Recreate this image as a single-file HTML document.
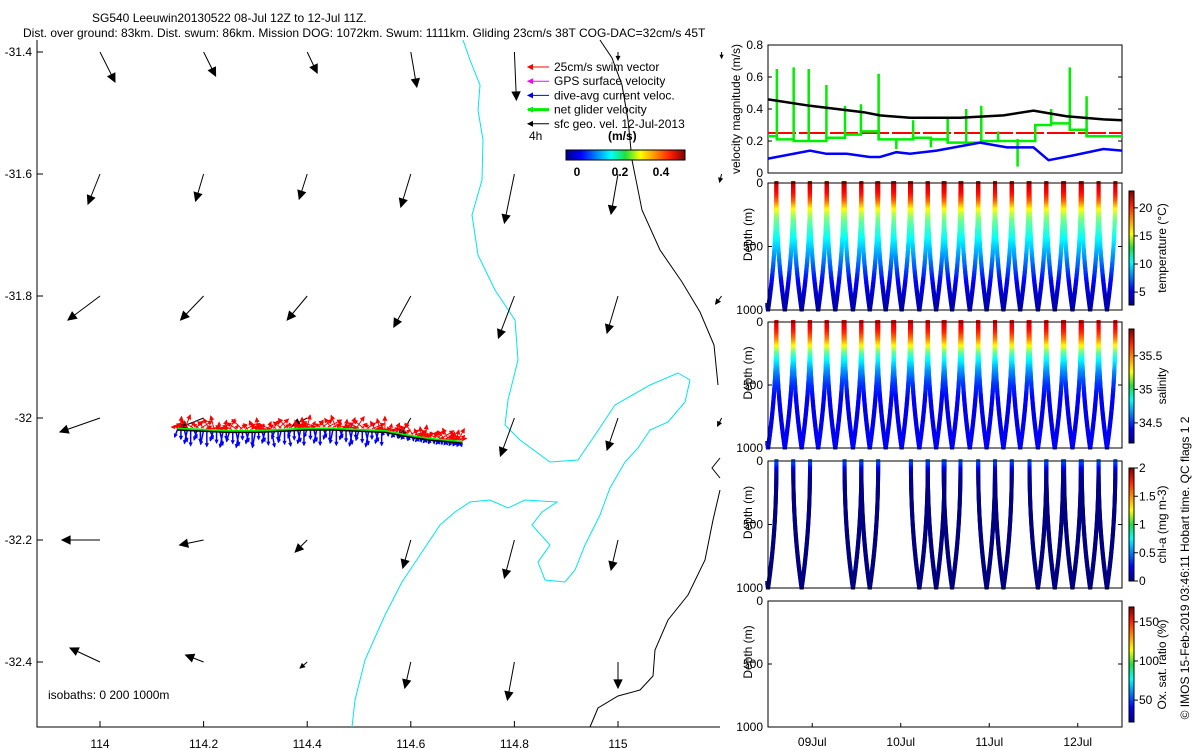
<!DOCTYPE html>
<html><head><meta charset="utf-8"><style>
html,body{margin:0;padding:0;background:#fff;}
svg{display:block;font-family:"Liberation Sans",sans-serif;}
text{font-size:12px;fill:#000;}
</style></head><body>
<svg id="fig" width="1200" height="750" viewBox="0 0 1200 750">
<defs>
<linearGradient id="jetH" x1="0" x2="1" y1="0" y2="0">
<stop offset="0" stop-color="#00008f"/><stop offset="0.125" stop-color="#0000ff"/><stop offset="0.375" stop-color="#00ffff"/><stop offset="0.5" stop-color="#20e040"/><stop offset="0.625" stop-color="#ffff00"/><stop offset="0.875" stop-color="#ff2000"/><stop offset="1" stop-color="#800000"/>
</linearGradient>
<linearGradient id="jetV" x1="0" x2="0" y1="1" y2="0">
<stop offset="0" stop-color="#00008f"/><stop offset="0.125" stop-color="#0000ff"/><stop offset="0.375" stop-color="#00ffff"/><stop offset="0.5" stop-color="#20e040"/><stop offset="0.625" stop-color="#ffff00"/><stop offset="0.875" stop-color="#ff2000"/><stop offset="1" stop-color="#800000"/>
</linearGradient>
</defs>
<text x="92" y="22">SG540 Leeuwin20130522 08-Jul 12Z to 12-Jul 11Z.</text>
<text x="23" y="37">Dist. over ground: 83km. Dist. swum: 86km. Mission DOG: 1072km. Swum: 1111km. Gliding 23cm/s 38T COG-DAC=32cm/s 45T</text>
<g id="map"></g>
<g id="right"></g>
</svg>
<script>
// ---------- data ----------
const mapLonTicks=[114,114.2,114.4,114.6,114.8,115];
const mapLatTicks=[-31.4,-31.6,-31.8,-32,-32.2,-32.4];
const gridLons=[114,114.2,114.4,114.6,114.8,115,115.2];
const gridLats=[-31.4,-31.6,-31.8,-32,-32.2,-32.4];
const geoU=[[0.15,0.12,0.10,0.06,0.02,0.0,0.0],[-0.12,-0.08,-0.08,-0.10,-0.10,-0.07,-0.02],[-0.32,-0.23,-0.20,-0.17,-0.16,-0.11,-0.06],[-0.40,-0.25,-0.15,-0.12,-0.14,-0.11,-0.04],[-0.38,-0.24,-0.12,-0.08,-0.10,-0.07,0],[-0.30,-0.18,-0.07,-0.06,-0.07,0.0,0]];
const geoV=[[-0.30,-0.24,-0.21,-0.35,-0.48,-0.08,-0.06],[-0.30,-0.27,-0.25,-0.33,-0.49,-0.40,-0.08],[-0.24,-0.24,-0.24,-0.31,-0.42,-0.37,-0.08],[-0.14,-0.10,-0.08,-0.20,-0.38,-0.32,-0.08],[0.0,-0.05,-0.12,-0.28,-0.38,-0.30,0],[0.14,0.07,-0.06,-0.26,-0.38,-0.26,0]];
const trackLon=[114.15,114.2,114.25,114.3,114.35,114.4,114.45,114.5,114.55,114.6,114.64,114.68,114.7];
const trackLat=[-32.018,-32.02,-32.022,-32.022,-32.02,-32.018,-32.018,-32.02,-32.022,-32.03,-32.035,-32.038,-32.04];
const velDays=[0,0.475,0.66,0.89,1.15,1.265,1.45,1.605,1.905,2.395,2.70,3.0,3.17,3.45,3.79,4.0];
const velDAC=[0.09,0.14,0.12,0.12,0.10,0.10,0.13,0.12,0.14,0.19,0.16,0.16,0.08,0.11,0.15,0.14];
const geoDays=[0,0.475,1.08,1.265,1.605,2.17,2.66,3.0,3.37,3.79,4.0];
const velGeo=[0.46,0.42,0.38,0.36,0.345,0.345,0.36,0.39,0.355,0.335,0.33];
const netStepT=[0,0.1,0.29,0.46,0.66,0.87,1.05,1.25,1.64,1.84,2.03,2.24,2.41,2.6,2.79,3.02,3.2,3.41,3.6,4.0];
const netStepV=[0.23,0.21,0.20,0.20,0.22,0.24,0.26,0.21,0.22,0.21,0.19,0.19,0.20,0.20,0.20,0.30,0.31,0.27,0.23,0.23];
const spikeT=[0.1,0.29,0.46,0.66,0.87,1.05,1.25,1.45,1.64,1.84,2.03,2.24,2.41,2.6,2.82,3.2,3.41,3.6];
const spikeV=[0.65,0.66,0.65,0.55,0.42,0.43,0.62,0.15,0.33,0.16,0.35,0.40,0.42,0.26,0.04,0.40,0.66,0.48];
const swimSpeed=0.25;
const diveBottoms=[0,0.19,0.38,0.567,0.76,0.96,1.15,1.33,1.51,1.71,1.9,2.08,2.28,2.47,2.66,2.85,3.05,3.24,3.44,3.64,3.83];
const chlBottoms=[0,0.38,0.96,1.15,1.71,1.9,2.08,2.47,2.66,3.05,3.24,3.44,3.64,3.83];
const profDepth=[0,50,100,150,200,250,300,400,500,600,700,800,900,1000];
const profTemp=[22,21,20,18.5,16,14,12.5,11,9.5,8,6.5,5,4,3.5];
const profSal=[35.75,35.7,35.6,35.45,35.25,35.0,34.85,34.65,34.5,34.42,34.38,34.38,34.4,34.42];
const profChl=[0.45,0.3,0.08,0.03,0.02,0.01,0,0,0,0,0,0,0,0];
const dayTicks=["09Jul","10Jul","11Jul","12Jul"];
const dayTickPos=[0.5,1.5,2.5,3.5];

// ---------- helpers ----------
const NS="http://www.w3.org/2000/svg";
function mk(parent,tag,attrs){const e=document.createElementNS(NS,tag);for(const k in attrs)e.setAttribute(k,attrs[k]);parent.appendChild(e);return e;}
function jet(f){f=Math.max(0,Math.min(1,f));const r=Math.max(0,Math.min(1,1.5-Math.abs(4*f-3))),g=Math.max(0,Math.min(1,1.5-Math.abs(4*f-2))),b=Math.max(0,Math.min(1,1.5-Math.abs(4*f-1)));return `rgb(${Math.round(r*255)},${Math.round(g*255)},${Math.round(b*255)})`;}
function interp(xs,ys,x){for(let i=1;i<xs.length;i++){if(x<=xs[i]){const f=(x-xs[i-1])/(xs[i]-xs[i-1]);return ys[i-1]+f*(ys[i]-ys[i-1]);}}return ys[ys.length-1];}

// ---------- map ----------
const map=document.getElementById('map');
const lonX=lon=>100+(lon-114)*518;
const latY=lat=>52+(-31.4-lat)*610;
const velScale=100;
function arrow(g,x1,y1,x2,y2,col,w,hs){
  const l=mk(g,'line',{x1,y1,x2,y2,stroke:col,'stroke-width':w});
  const a=Math.atan2(y2-y1,x2-x1),len=Math.hypot(x2-x1,y2-y1);
  const h=Math.min(hs,len*0.5);
  if(h>0.5){mk(g,'path',{d:`M${x2},${y2}L${x2-h*Math.cos(a-0.45)},${y2-h*Math.sin(a-0.45)}L${x2-h*Math.cos(a+0.45)},${y2-h*Math.sin(a+0.45)}Z`,fill:col,stroke:col,'stroke-width':1});}
  return l;
}
const ax=mk(map,'path',{d:'M37,40V727H720',fill:'none',stroke:'#000','stroke-width':1});


mapLatTicks.forEach(v=>{const y=latY(v);mk(map,'line',{x1:37,x2:43,y1:y,y2:y,stroke:'#000'});
 const t=mk(map,'text',{x:32,y:y+4,'text-anchor':'end'});t.textContent=String(v);
 
 });
mapLonTicks.forEach(v=>{const x=lonX(v);mk(map,'line',{x1:x,x2:x,y1:727,y2:721,stroke:'#000'});
 const t=mk(map,'text',{x:x,y:748,'text-anchor':'middle'});t.textContent=String(v);
 
 });
const c1=mk(map,'path',{d:'M463,40L470,60L480,85L478,110L483,140L482,180L472,215L478,255L495,290L515,320L518,360L508,400L505,425L520,440L550,462L578,460L595,435L615,405L650,385L678,373L690,380L685,402L668,422L650,430L638,448L625,462L610,488L600,515L585,545L575,570L565,582L545,580L538,562L550,545L532,525L542,512L557,502L525,500L508,508L490,500L470,502L455,512L440,525L420,555L402,582L385,615L365,660L355,700L352,727',fill:'none',stroke:'#00e5ee','stroke-width':1});


const c2=mk(map,'path',{d:'M590,727L598,708L618,696L640,690L653,676L655,650L668,620L688,595L705,560L713,520L720,490',fill:'none',stroke:'#000','stroke-width':1});


const c3=mk(map,'path',{d:'M600,40L612,58L622,85L628,120L632,160L642,210L660,250L682,282L700,312L714,345L718,385',fill:'none',stroke:'#000','stroke-width':1});


mk(map,'path',{d:'M720,458L712,468L720,478',fill:'none',stroke:'#000','stroke-width':1});
gridLats.forEach((lat,j)=>gridLons.forEach((lon,i)=>{
  const x=lonX(lon),y=latY(lat),u=geoU[j][i],v=geoV[j][i];
  if(Math.hypot(u,v)<0.005)return;
  const g=mk(map,'g',{});
  
  
  arrow(g,x,y,x+u*velScale,y-v*velScale,'#000',1,9);
}));
const tg=mk(map,'g',{});


const trackPts=trackLon.map((l,i)=>[lonX(l),latY(trackLat[i])]);
for(let i=0;i<trackPts.length-1;i++){
  const [x0,y0]=trackPts[i],[x1,y1]=trackPts[i+1];
  for(let k=0;k<8;k++){const f=k/8,x=x0+f*(x1-x0),y=y0+f*(y1-y0);
    const d=i<8?(8+((i*8+k)%5)*2):4;
    arrow(tg,x,y,x+((k%3)-1)*3,y+d,'#0000ff',1.5,3);}
}
for(let i=0;i<trackPts.length-1;i++){
  const [x0,y0]=trackPts[i],[x1,y1]=trackPts[i+1];
  for(let k=0;k<10;k++){const f=k/10,x=x0+f*(x1-x0),y=y0+f*(y1-y0);
    const ang=-Math.PI/2+((i*10+k)*1.7%3.2)-1.6;
    const len=6+((i*10+k)*7%11);
    arrow(tg,x,y-2,x+Math.cos(ang)*len,y-2+Math.sin(ang)*len*0.8,'#ff0000',1,4);}
}
mk(tg,'polyline',{points:trackPts.map(p=>p.join(',')).join(' '),fill:'none',stroke:'#00ee00','stroke-width':3});
mk(tg,'polyline',{points:trackPts.map(p=>p[0]+','+(p[1]+1)).join(' '),fill:'none',stroke:'#000','stroke-width':1.5});
const lg=mk(map,'g',{});


const legItems=[['25cm/s swim vector','#ff0000',1],['GPS surface velocity','#ff00ff',1],['dive-avg current veloc.','#0000ff',1],['net glider velocity','#00ee00',3],['sfc geo. vel. 12-Jul-2013','#000',1]];
legItems.forEach((it,i)=>{const y=67+i*14.2;arrow(lg,549,y,528,y,it[1],it[2],5);
 const t=mk(lg,'text',{x:554,y:y+4});t.textContent=it[0];
 
 });
const t4=mk(lg,'text',{x:529,y:140});t4.textContent='4h';
const tu=mk(lg,'text',{x:608,y:140,'font-weight':'bold'});tu.textContent='(m/s)';
const cb=mk(lg,'rect',{x:566,y:150,width:119,height:10,fill:'url(#jetH)',stroke:'#000','stroke-width':1});


[['0',577],['0.2',620],['0.4',661]].forEach(a=>{const t=mk(lg,'text',{x:a[1],y:176,'text-anchor':'middle','font-weight':'bold'});t.textContent=a[0];});
const iso=mk(map,'text',{x:48,y:699});iso.textContent='isobaths: 0   200  1000m';



// ---------- right panels ----------
const R=document.getElementById('right');
const X0=768,X1=1122,dayW=(X1-X0)/4;
const tX=t=>X0+t*dayW;
function panelBox(y0,y1,name){
  const b=mk(R,'rect',{x:X0,y:y0,width:X1-X0,height:y1-y0,fill:'none',stroke:'#000','stroke-width':1});
  
  
}
function rotText(x,y,s,name){const t=mk(R,'text',{x,y,'text-anchor':'middle',transform:`rotate(-90 ${x} ${y})`});t.textContent=s;
 
 return t;}
const VY0=45,VY1=173;const vY=v=>VY1-v*(VY1-VY0)/0.8;
panelBox(VY0,VY1,'velocity-panel');
[0,0.2,0.4,0.6,0.8].forEach(v=>{const y=vY(v);mk(R,'line',{x1:X0,x2:X0+4,y1:y,y2:y,stroke:'#000'});mk(R,'line',{x1:X1,x2:X1-4,y1:y,y2:y,stroke:'#000'});
 const t=mk(R,'text',{x:763,y:y+4,'text-anchor':'end'});t.textContent=String(v);
 
 });
rotText(740,109,'velocity magnitude (m/s)','velocity-axis-title');
const red=mk(R,'line',{x1:X0,x2:X1,y1:vY(swimSpeed),y2:vY(swimSpeed),stroke:'#ff0000','stroke-width':2,'stroke-dasharray':'28 3'});


let gp=[];netStepT.forEach((t,i)=>{if(i>0)gp.push([tX(t),vY(netStepV[i-1])]);gp.push([tX(t),vY(netStepV[i])]);});
const gl=mk(R,'polyline',{points:gp.map(p=>p.join(',')).join(' '),fill:'none',stroke:'#00ee00','stroke-width':2.5});


spikeT.forEach((t,i)=>{const base=interp(netStepT,netStepV,t);const s=mk(R,'line',{x1:tX(t),x2:tX(t),y1:vY(base),y2:vY(spikeV[i]),stroke:'#00ee00','stroke-width':2.5});
 
 });
const bl=mk(R,'polyline',{points:velDays.map((t,i)=>tX(t)+','+vY(velDAC[i])).join(' '),fill:'none',stroke:'#0000ff','stroke-width':2.5});


const kl=mk(R,'polyline',{points:geoDays.map((t,i)=>tX(t)+','+vY(velGeo[i])).join(' '),fill:'none',stroke:'#000','stroke-width':2.5});



const halfDive=0.095;
function profilePanel(y0,y1,bottoms,vals,vmin,vmax,cbTicks,cbLabel,name,cby0,cby1){
  const dY=d=>y0+d/1000*(y1-y0);
  const g=mk(R,'g',{});
  
  
  if(bottoms){
    bottoms.forEach(tb=>{
      [-1,1].forEach(side=>{
        for(let d=0;d<=1000;d+=12){
          const t=tb+side*halfDive*(1-Math.pow(d/1000,2.2));
          if(t<-0.01||t>4.0)continue;
          const v=interp(profDepth,vals,d);
          const c=jet((v-vmin)/(vmax-vmin));
          mk(g,'rect',{x:tX(t)-2,y:dY(d)-2,width:4,height:4,fill:c});
        }
      });
    });
  }
  panelBox(y0,y1,name+'-panel');
  [0,500,1000].forEach(d=>{const y=dY(d);mk(R,'line',{x1:X0,x2:X0+4,y1:y,y2:y,stroke:'#000'});mk(R,'line',{x1:X1,x2:X1-4,y1:y,y2:y,stroke:'#000'});
    const t=mk(R,'text',{x:763,y:y+4,'text-anchor':'end'});t.textContent=String(d);
    
    });
  rotText(752,(y0+y1)/2-12,'Depth (m)','depth-axis-title');
  const cb=mk(R,'rect',{x:1129,y:cby0,width:5,height:cby1-cby0,fill:'url(#jetV)',stroke:'#000','stroke-width':1});
  
  
  cbTicks.forEach(v=>{const y=cby1-(v-vmin)/(vmax-vmin)*(cby1-cby0);
    mk(R,'line',{x1:1134,x2:1138,y1:y,y2:y,stroke:'#000'});
    const t=mk(R,'text',{x:1139,y:y+4});t.textContent=String(v);
    
    });
  rotText(1166,(cby0+cby1)/2,cbLabel,name+'-colorbar-title');
}
profilePanel(183,310,diveBottoms,profTemp,2.7,23,[5,10,15,20],'temperature (°C)','temperature',191,305);
profilePanel(322,448,diveBottoms,profSal,34.2,35.9,[34.5,35,35.5],'salinity','salinity',329,443);
profilePanel(461,588,chlBottoms,profChl,0,2,[0,0.5,1,1.5,2],'chl-a (mg m-3)','chlorophyll',468,581);
profilePanel(601,727,null,null,22,169,[50,100,150],'Ox. sat. ratio (%)','oxygen',607,722);
dayTicks.forEach((s,i)=>{const x=tX(dayTickPos[i]);mk(R,'line',{x1:x,x2:x,y1:727,y2:723,stroke:'#000'});
 const t=mk(R,'text',{x:x,y:746,'text-anchor':'middle'});t.textContent=s;
 
 });
rotText(1189,568,'© IMOS 15-Feb-2019 03:46:11 Hobart time. QC flags 1  2','imos-credit');
</script>
</body></html>
